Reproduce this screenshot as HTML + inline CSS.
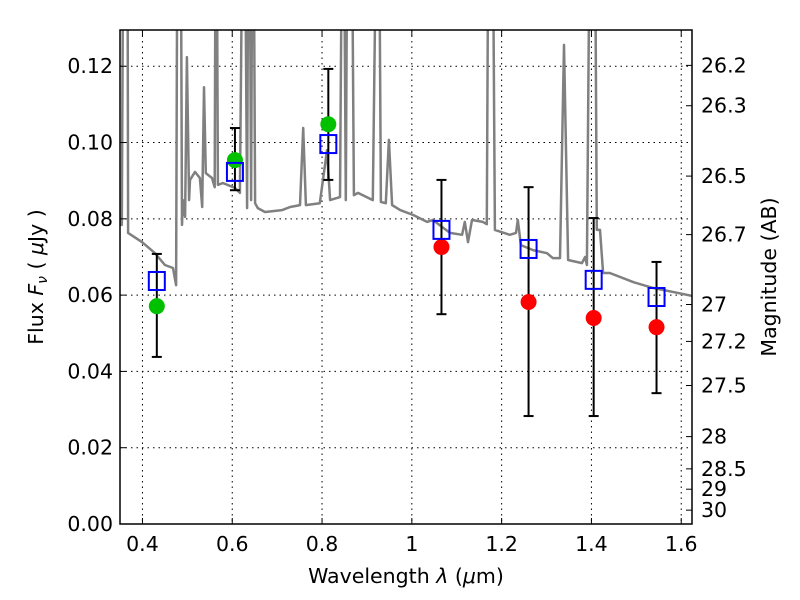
<!DOCTYPE html>
<html><head><meta charset="utf-8">
<style>
html,body{margin:0;padding:0;background:#fff;}
svg{display:block;font-family:"DejaVu Sans","Liberation Sans",sans-serif;}
</style></head>
<body>
<svg id="chart" width="800" height="600" viewBox="0 0 800 600" xmlns="http://www.w3.org/2000/svg"></svg>
<script>
const specWl=[0.350,0.354,0.359,0.366,0.368,0.399,0.428,0.450,0.468,0.475,0.479,0.484,0.488,0.490,0.495,0.499,0.504,0.506,0.517,0.528,0.533,0.537,0.541,0.555,0.561,0.564,0.568,0.579,0.606,0.617,0.626,0.633,0.637,0.642,0.646,0.651,0.657,0.673,0.711,0.729,0.751,0.758,0.764,0.795,0.811,0.818,0.840,0.847,0.853,0.858,0.864,0.871,0.880,0.913,0.925,0.931,0.942,0.949,0.956,0.974,1.003,1.034,1.047,1.085,1.112,1.118,1.125,1.134,1.158,1.167,1.172,1.178,1.185,1.218,1.232,1.236,1.243,1.270,1.301,1.314,1.330,1.339,1.348,1.379,1.386,1.390,1.399,1.406,1.412,1.419,1.426,1.441,1.493,1.537,1.591,1.624];
const specFlux=[0.0784,0.0784,0.2,0.2,0.0763,0.0739,0.0710,0.0679,0.0671,0.0626,0.2,0.2,0.0784,0.0849,0.0805,0.1224,0.0849,0.0902,0.0923,0.0907,0.0831,0.1145,0.0920,0.0907,0.0883,0.2,0.0889,0.0894,0.0881,0.0868,0.2,0.0828,0.2,0.0849,0.2,0.0841,0.0828,0.0818,0.0823,0.0831,0.0836,0.1038,0.0836,0.0841,0.0980,0.0849,0.0857,0.2,0.0849,0.2,0.2,0.0862,0.0868,0.0849,0.2,0.0844,0.0841,0.1007,0.0836,0.0823,0.0810,0.0792,0.0797,0.0763,0.0758,0.0792,0.0739,0.0797,0.0792,0.0786,0.2,0.2,0.0771,0.0758,0.0763,0.0797,0.0731,0.0718,0.0710,0.0697,0.0697,0.1256,0.0692,0.0684,0.0700,0.0679,0.2,0.2,0.0771,0.0771,0.0658,0.0658,0.0634,0.0619,0.0606,0.0598];
const bandWl=[0.432,0.606,0.814,1.066,1.260,1.405,1.545];
const modelFlux=[0.0637,0.0923,0.0996,0.0771,0.0721,0.0640,0.0595];
const errHi=[0.0708,0.1038,0.1193,0.0902,0.0883,0.0802,0.0687];
const errLo=[0.0438,0.0875,0.0902,0.0550,0.0283,0.0283,0.0343];
const obsFlux=[0.0571,0.0954,0.1048,0.0726,0.0582,0.0540,0.0516];
const obsColor=['green','green','green','red','red','red','red'];
const xTicks=[0.4,0.6,0.8,1.0,1.2,1.4,1.6];
const xTickLabels=['0.4','0.6','0.8','1','1.2','1.4','1.6'];
const yTicks=[0,0.02,0.04,0.06,0.08,0.10,0.12];
const yTickLabels=['0.00','0.02','0.04','0.06','0.08','0.10','0.12'];
const magTicks=[26.2,26.3,26.5,26.7,27,27.2,27.5,28,28.5,29,30];
const magLabels=['26.2','26.3','26.5','26.7','27','27.2','27.5','28','28.5','29','30'];

const L=120,R=692,T=30,B=524,XMIN=0.35,XMAX=1.624,YMIN=0,YMAX=0.1295;
const X=v=>L+(v-XMIN)/(XMAX-XMIN)*(R-L);
const Y=v=>B-(v-YMIN)/(YMAX-YMIN)*(B-T);
const magToFlux=m=>Math.pow(10,(23.9-m)/2.5);
const svg=document.getElementById('chart');
const NS='http://www.w3.org/2000/svg';
function mk(tag,attrs,parent){const e=document.createElementNS(NS,tag);for(const k in attrs)e.setAttribute(k,attrs[k]);(parent||svg).appendChild(e);return e;}

const defs=mk('defs',{});
const cp=mk('clipPath',{id:'plotclip'},defs);
mk('rect',{x:L,y:T,width:R-L,height:B-T},cp);

const grid=mk('g',{});


xTicks.forEach(v=>{mk('line',{x1:X(v),x2:X(v),y1:T,y2:B,stroke:'#000','stroke-width':1,'stroke-dasharray':'1.5,4'},grid);});
yTicks.forEach(v=>{mk('line',{x1:L,x2:R,y1:Y(v),y2:Y(v),stroke:'#000','stroke-width':1,'stroke-dasharray':'1.5,4'},grid);});

const pts=specWl.map((w,i)=>X(w).toFixed(1)+','+Y(specFlux[i]).toFixed(1)).join(' ');
const spec=mk('polyline',{points:pts,fill:'none',stroke:'#808080','stroke-width':2.5,'stroke-linejoin':'round','clip-path':'url(#plotclip)'});



bandWl.forEach((w,i)=>{
  const g=mk('g',{});
  
  
  const x=X(w);
  mk('line',{x1:x,x2:x,y1:Y(errHi[i]),y2:Y(errLo[i]),stroke:'#000','stroke-width':2},g);
  mk('line',{x1:x-5,x2:x+5,y1:Y(errHi[i]),y2:Y(errHi[i]),stroke:'#000','stroke-width':2},g);
  mk('line',{x1:x-5,x2:x+5,y1:Y(errLo[i]),y2:Y(errLo[i]),stroke:'#000','stroke-width':2},g);
});
bandWl.forEach((w,i)=>{
  const c=mk('circle',{cx:X(w),cy:Y(obsFlux[i]),r:8,fill:obsColor[i]==='green'?'#00c000':'#ff0000'});
  
  
});
bandWl.forEach((w,i)=>{
  const s=mk('rect',{x:X(w)-8,y:Y(modelFlux[i])-9,width:16,height:18,fill:'none',stroke:'#0000ff','stroke-width':2});
  
  
});

const fr=mk('rect',{x:L,y:T,width:R-L,height:B-T,fill:'none',stroke:'#000','stroke-width':1.5});



const xa=mk('g',{});


xTicks.forEach((v,i)=>{
  mk('line',{x1:X(v),x2:X(v),y1:B,y2:B-6,stroke:'#000','stroke-width':1},xa);
  mk('line',{x1:X(v),x2:X(v),y1:T,y2:T+6,stroke:'#000','stroke-width':1},xa);
  const t=mk('text',{x:X(v),y:551,'text-anchor':'middle','font-size':20.5},xa);
  t.textContent=xTickLabels[i];
});
const ya=mk('g',{});


yTicks.forEach((v,i)=>{
  mk('line',{x1:L,x2:L+6,y1:Y(v),y2:Y(v),stroke:'#000','stroke-width':1},ya);
  const t=mk('text',{x:L-7,y:Y(v)+7,'text-anchor':'end','font-size':20.5},ya);
  t.textContent=yTickLabels[i];
});
const ma=mk('g',{});


magTicks.forEach((m,i)=>{
  const y=Y(magToFlux(m));
  mk('line',{x1:R,x2:R-6,y1:y,y2:y,stroke:'#000','stroke-width':1},ma);
  const t=mk('text',{x:R+9,y:y+7,'text-anchor':'start','font-size':20.5},ma);
  t.textContent=magLabels[i];
});
</script>
<svg style="position:absolute;left:0;top:0" width="800" height="600">
<text x="406" y="583" text-anchor="middle" font-size="20.5" font-family="DejaVu Sans, Liberation Sans, sans-serif">Wavelength  <tspan font-style="italic">λ</tspan> (<tspan font-style="italic">μ</tspan>m)</text>
<text transform="translate(43,277) rotate(-90)" text-anchor="middle" font-size="20.5" font-family="DejaVu Sans, Liberation Sans, sans-serif">Flux  <tspan font-style="italic">F</tspan><tspan font-style="italic" font-size="14" dy="4">ν</tspan><tspan dy="-4">  (  </tspan><tspan font-style="italic">μ</tspan>Jy )</text>
<text transform="translate(776,277) rotate(-90)" text-anchor="middle" font-size="20.5" font-family="DejaVu Sans, Liberation Sans, sans-serif">Magnitude (AB)</text>
</svg>
</body></html>
